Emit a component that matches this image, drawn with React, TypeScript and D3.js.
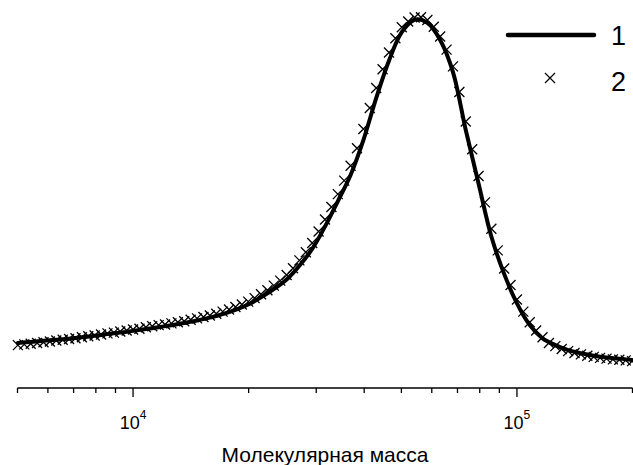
import React from "react";
import * as d3 from "d3";

// Molecular-weight distribution: curve 1 (solid line) and curve 2 (× markers).
// Both are sampled on a uniform log10(M) grid starting at log10(M) = 3.70.
const LOG_M_START = 3.7;
const LINE_STEP = 1 / 30; // curve 1 sampling step in log10(M)
const MARKER_STEP = 1 / 60; // curve 2 sampling step in log10(M)

// Curve 1: normalised w(log M)
const lineValues = [
  0.09, 0.093, 0.096, 0.099, 0.102, 0.106, 0.11, 0.115, 0.119, 0.124,
  0.129, 0.134, 0.14, 0.146, 0.153, 0.161, 0.171, 0.183, 0.198, 0.218,
  0.241, 0.268, 0.307, 0.354, 0.417, 0.488, 0.562, 0.66, 0.778, 0.883,
  0.963, 0.998, 0.989, 0.941, 0.851, 0.688, 0.538, 0.389, 0.284, 0.201,
  0.14, 0.103, 0.084, 0.07, 0.061, 0.054, 0.049, 0.046, 0.042,
];

// Curve 2: normalised w(log M)
const markerValues = [
  0.084, 0.086, 0.088, 0.09, 0.092, 0.094, 0.097, 0.099, 0.101, 0.103,
  0.106, 0.109, 0.111, 0.114, 0.117, 0.119, 0.122, 0.125, 0.128, 0.13,
  0.134, 0.137, 0.14, 0.142, 0.145, 0.148, 0.151, 0.155, 0.159, 0.163,
  0.167, 0.172, 0.178, 0.184, 0.191, 0.198, 0.206, 0.216, 0.227, 0.238,
  0.251, 0.265, 0.281, 0.3, 0.322, 0.345, 0.371, 0.403, 0.437, 0.472,
  0.508, 0.546, 0.588, 0.637, 0.691, 0.75, 0.806, 0.859, 0.906, 0.946,
  0.977, 0.993, 1.004, 1.005, 0.997, 0.978, 0.951, 0.914, 0.867, 0.795,
  0.712, 0.634, 0.559, 0.485, 0.411, 0.35, 0.299, 0.253, 0.212, 0.178,
  0.148, 0.125, 0.106, 0.09, 0.081, 0.073, 0.067, 0.062, 0.058, 0.054,
  0.051, 0.048, 0.046, 0.044, 0.043, 0.041, 0.039,
];

const X_DOMAIN: [number, number] = [5000, 200000];
const MAJOR_TICKS = [1e4, 1e5];
const MINOR_TICKS = [
  5000, 6000, 7000, 8000, 9000, 20000, 30000, 40000, 50000, 60000, 70000,
  80000, 90000, 200000,
];
const MAJOR_LABELS = [
  { base: "10", exp: "4" },
  { base: "10", exp: "5" },
];
const X_TITLE = "Молекулярная масса";
const LEGEND_LABELS = ["1", "2"];

const W = 633;
const H = 465;
const FONT = "Arial, 'Liberation Sans', Helvetica, sans-serif";

export default function App() {
  const x = d3.scaleLog().domain(X_DOMAIN).range([17.5, 632.5]);
  const y = d3.scaleLinear().domain([0, 1]).range([375, 19]);
  const axisY = 388;

  const linePts: [number, number][] = lineValues.map((v, i) => [
    Math.pow(10, LOG_M_START + i * LINE_STEP),
    v,
  ]);
  const markerPts: [number, number][] = markerValues.map((v, i) => [
    Math.pow(10, LOG_M_START + i * MARKER_STEP),
    v,
  ]);

  const lineGen = d3
    .line<[number, number]>()
    .x((d) => x(d[0]))
    .y((d) => y(d[1]))
    .curve(d3.curveCatmullRom.alpha(0.5));

  const cross = (s: number) => `M${-s},${-s}L${s},${s}M${-s},${s}L${s},${-s}`;

  return (
    <svg
      width={W}
      height={H}
      viewBox={`0 0 ${W} ${H}`}
      style={{ position: "absolute", left: 0, top: 0, background: "#fff" }}
      fontFamily={FONT}
    >
      <rect x={0} y={0} width={W} height={H} fill="#fff" />

      {/* curve 1 */}
      <path
        d={lineGen(linePts) ?? ""}
        fill="none"
        stroke="#000"
        strokeWidth={4}
        strokeLinejoin="round"
        strokeLinecap="round"
      />

      {/* curve 2 */}
      <g stroke="#000" strokeWidth={1.3} fill="none">
        {markerPts.map((d, i) => (
          <path
            key={i}
            d={cross(5)}
            transform={`translate(${x(d[0])},${y(d[1])})`}
          />
        ))}
      </g>

      {/* x axis */}
      <g stroke="#000" strokeWidth={1.3}>
        <line x1={x(X_DOMAIN[0])} x2={x(X_DOMAIN[1])} y1={axisY} y2={axisY} />
        {MINOR_TICKS.map((t) => (
          <line key={t} x1={x(t)} x2={x(t)} y1={axisY} y2={axisY + 5} />
        ))}
        {MAJOR_TICKS.map((t) => (
          <line key={t} x1={x(t)} x2={x(t)} y1={axisY} y2={axisY + 9} />
        ))}
      </g>
      {MAJOR_TICKS.map((t, i) => (
        <text
          key={t}
          x={x(t)}
          y={429}
          textAnchor="middle"
          fontSize={18}
          fill="#000"
        >
          {MAJOR_LABELS[i].base}
          <tspan dy={-10} fontSize={12}>
            {MAJOR_LABELS[i].exp}
          </tspan>
        </text>
      ))}
      <text
        x={(x(X_DOMAIN[0]) + x(X_DOMAIN[1])) / 2}
        y={462}
        textAnchor="middle"
        fontSize={21}
        fill="#000"
      >
        {X_TITLE}
      </text>

      {/* legend */}
      <line
        x1={508}
        x2={594}
        y1={35}
        y2={35}
        stroke="#000"
        strokeWidth={4.5}
        strokeLinecap="round"
      />
      <text x={611} y={45} fontSize={27} fill="#000">
        {LEGEND_LABELS[0]}
      </text>
      <path
        d={cross(5)}
        transform="translate(550,78)"
        stroke="#000"
        strokeWidth={1.2}
        fill="none"
      />
      <text x={611} y={91} fontSize={27} fill="#000">
        {LEGEND_LABELS[1]}
      </text>
    </svg>
  );
}
